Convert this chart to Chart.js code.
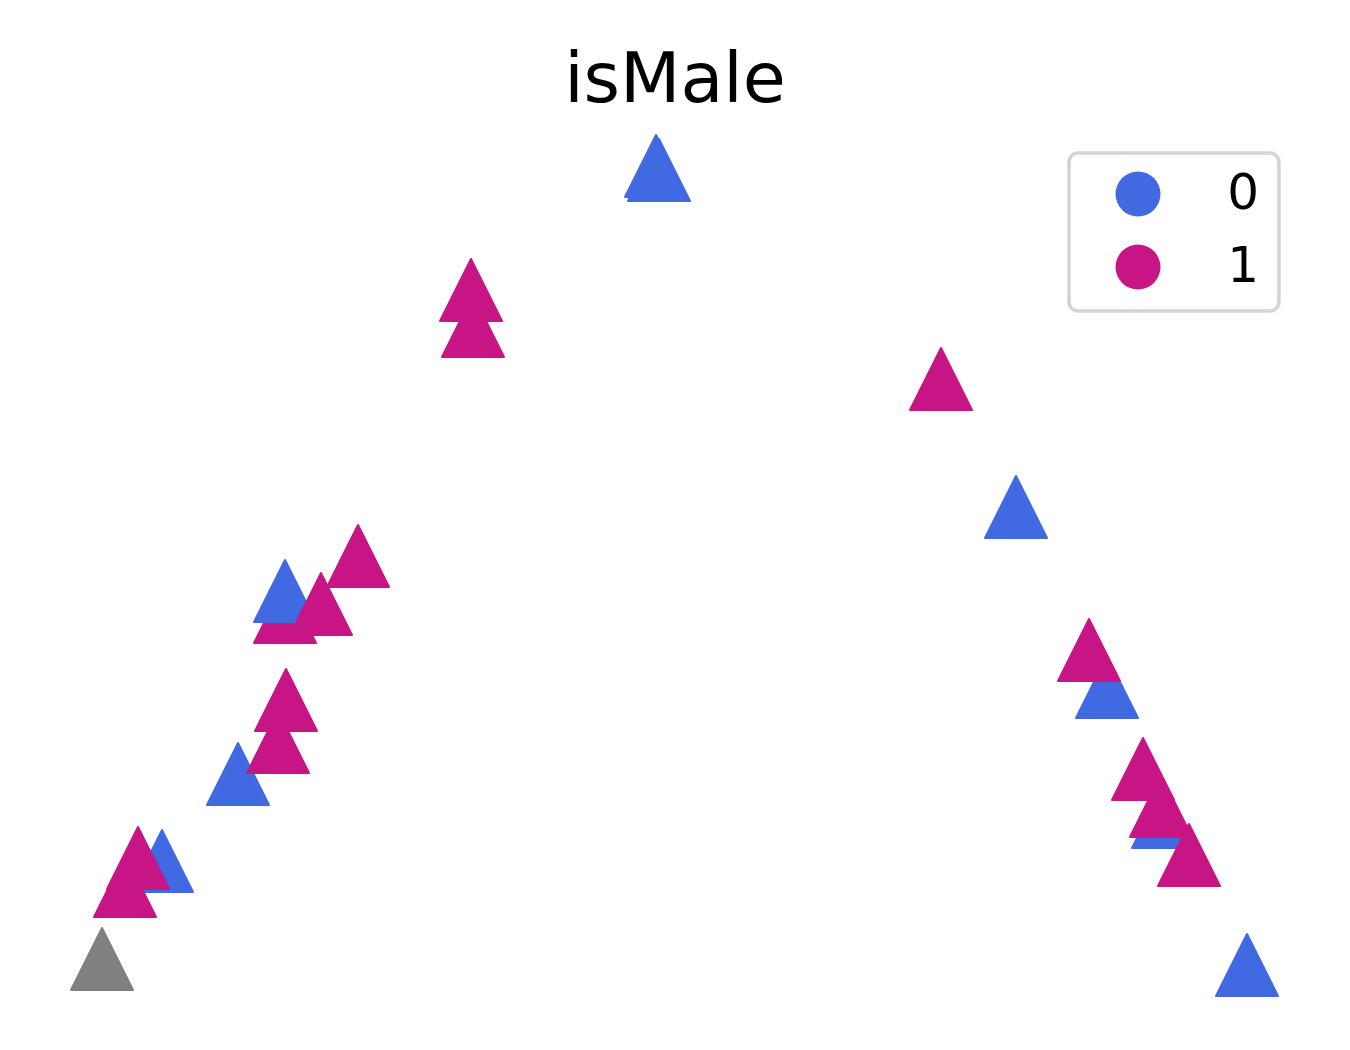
<!DOCTYPE html>
<html>
<head>
<meta charset="utf-8">
<script src="https://cdn.jsdelivr.net/npm/chart.js@4/dist/chart.umd.min.js"></script>
<style>
  body { margin: 0; background: #fff; }
</style>
</head>
<body>
<canvas id="embedCanvas" width="1350" height="1050"></canvas>
<script>
// embedding coordinates, in draw order (later points sit on top)
var xs = [-0.19, -0.16, 3.41, 4.32, -4.37, -5.13, 4.88, 5.72, -5.73,
  -2.04, -2.02, 2.66, -3.17, -3.90, -3.90, -3.54, -3.97, -3.89,
  -5.50, -5.37, 4.14, 4.86, 4.68, 5.14];
var ys = [3.99, 3.95, 0.58, -1.22, -2.09, -2.96, -2.52, -4.00, -3.94,
  2.75, 2.39, 1.86, 0.09, -0.47, -0.26, -0.39, -1.77, -1.35,
  -3.21, -2.93, -0.85, -2.41, -2.04, -2.90];
// isMale value per point (null = missing)
var groups = [0, 0, 0, 0, 0, 0, 0, 0, null,
  1, 1, 1, 1, 1, 0, 1, 1, 1,
  1, 1, 1, 1, 1, 1];
var legendLabels = ["0", "1"];

var groupColors = { 0: "#4169E1", 1: "#C71585", none: "#808080" };

function triangle(color) {
  var c = document.createElement("canvas");
  c.width = 68;
  c.height = 68;
  var g = c.getContext("2d");
  g.fillStyle = color;
  g.strokeStyle = color;
  g.lineWidth = 2;
  g.lineJoin = "round";
  g.beginPath();
  g.moveTo(34, 3);
  g.lineTo(65, 65);
  g.lineTo(3, 65);
  g.closePath();
  g.fill();
  g.stroke();
  return c;
}

var markers = {};
Object.keys(groupColors).forEach(function (k) {
  markers[k] = triangle(groupColors[k]);
});

var points = xs.map(function (x, i) {
  return { x: x, y: ys[i] };
});
var pointStyles = groups.map(function (g) {
  return g === null ? markers.none : markers[g];
});

var legendBox = {
  id: "legendBox",
  afterDraw: function (chart) {
    var ctx = chart.ctx;
    ctx.save();
    ctx.beginPath();
    ctx.roundRect(1069, 153, 210, 158, 9);
    ctx.fillStyle = "rgba(255,255,255,0.8)";
    ctx.fill();
    ctx.lineWidth = 3.5;
    ctx.strokeStyle = "#d4d4d4";
    ctx.stroke();
    legendLabels.forEach(function (lab, i) {
      var cy = 194 + i * 73;
      ctx.beginPath();
      ctx.arc(1138, cy, 22.5, 0, Math.PI * 2);
      ctx.fillStyle = groupColors[i];
      ctx.fill();
      ctx.fillStyle = "#000";
      ctx.font = "50px 'DejaVu Sans'";
      ctx.textAlign = "right";
      ctx.textBaseline = "middle";
      ctx.fillText(lab, 1259, cy + 2);
    });
    ctx.restore();
  },
};

new Chart(document.getElementById("embedCanvas").getContext("2d"), {
  type: "scatter",
  data: {
    datasets: [
      {
        data: points,
        pointStyle: pointStyles,
        pointRadius: 31,
        pointHoverRadius: 31,
      },
    ],
  },
  options: {
    responsive: false,
    animation: false,
    layout: { padding: { left: 45, right: 45, top: 0, bottom: 45 } },
    scales: {
      x: { display: false, min: -6.3, max: 6.3 },
      y: { display: false, min: -4.4, max: 4.39 },
    },
    plugins: {
      legend: { display: false },
      tooltip: { enabled: false },
      title: {
        display: true,
        text: "isMale",
        color: "#000",
        font: { family: "'DejaVu Sans'", size: 70, weight: "normal", lineHeight: 1.2 },
        padding: { top: 42, bottom: 0 },
      },
    },
  },
  plugins: [legendBox],
});
</script>
</body>
</html>
